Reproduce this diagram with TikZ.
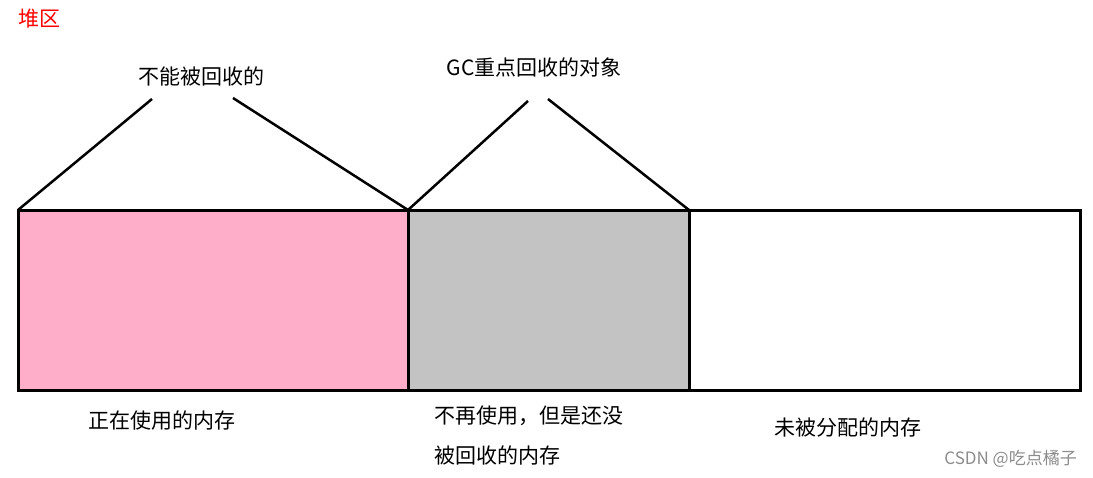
\documentclass[tikz,border=0pt]{standalone}
\usepackage{fontspec}
\setmainfont{Noto Sans CJK SC}
\usetikzlibrary{positioning}

\begin{document}
\begin{tikzpicture}[
  x=1pt, y=-1pt,
  heap box/.style={rectangle, draw=black, line width=3pt, inner sep=0pt, outer sep=0pt, minimum height=180pt},
  label text/.style={font=\fontsize{21}{30}\selectfont, text=black, inner sep=0pt, align=left},
  pointer/.style={line width=2.5pt, black},
]
  \useasboundingbox (0,0) rectangle (1093,477);
  \node[label text, text=red, anchor=west] (heap) at (18,19) {堆区};
  % three regions of the heap
  \node[heap box, fill={rgb,255:red,255;green,174;blue,201}, minimum width=390pt] (used) at (213,300) {};
  \node[heap box, fill={rgb,255:red,195;green,195;blue,195}, minimum width=281pt] (dead) at (548.5,300) {};
  \node[heap box, fill=white, minimum width=391pt] (free) at (884.5,300) {};
  % labels above
  \node[label text] (keep) at (201,76) {不能被回收的};
  \node[label text] (gc) at (534,67) {GC重点回收的对象};
  \coordinate (keep l) at (152,99);
  \coordinate (keep r) at (233,98);
  \coordinate (gc l) at (528,101);
  \coordinate (gc r) at (548,99);
  \draw[pointer] (used.north west) -- (keep l);
  \draw[pointer] (keep r) -- (used.north east);
  \draw[pointer] (dead.north west) -- (gc l);
  \draw[pointer] (gc r) -- (dead.north east);
  % labels below
  \node[label text, anchor=north west, text depth=0pt] (unused) at (434,406) {不再使用，但是还没\\[10pt]被回收的内存};
  \node[label text, anchor=west] (in use) at (88,421) {正在使用的内存};
  \node[label text, anchor=west] (unalloc) at (774,428) {未被分配的内存};
  \node[font=\fontsize{17}{18}\selectfont, text=black!45, inner sep=0pt, anchor=east] (mark) at (1077,459) {CSDN @吃点橘子};
\end{tikzpicture}
\end{document}
